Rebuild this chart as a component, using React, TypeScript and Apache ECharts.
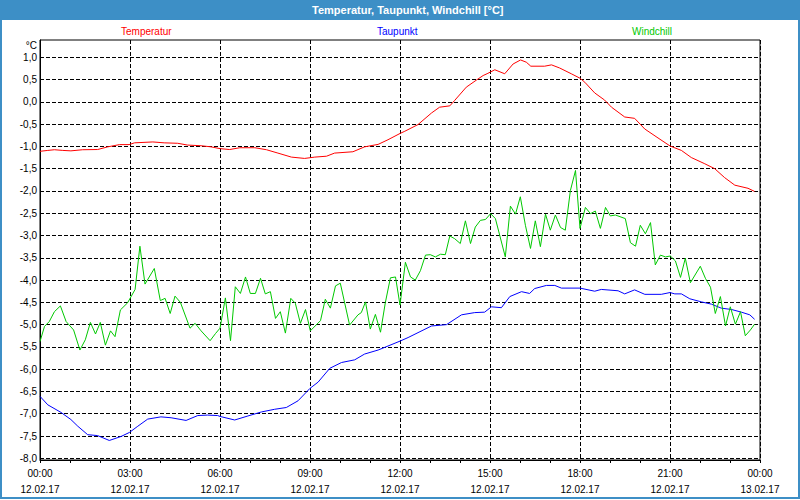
import React, { useEffect, useRef } from "react";
import * as echarts from "echarts";

const DAY_START = Date.UTC(2017, 1, 12);
const HOUR = 3600000;

const yTickValues = [-8, -7.5, -7, -6.5, -6, -5.5, -5, -4.5, -4, -3.5, -3, -2.5, -2, -1.5, -1, -0.5, 0, 0.5, 1];

// [hour of 12.02.17, °C]
const temperatur: [number, number][] = [
  [0.0, -1.11], [0.26, -1.09], [0.48, -1.075], [0.76, -1.09], [1.03, -1.1], [1.42, -1.075], [1.92, -1.07],
  [2.26, -1.01], [2.65, -0.96], [2.97, -0.96], [3.15, -0.92], [3.76, -0.9], [4.14, -0.92], [4.59, -0.93],
  [4.92, -0.97], [5.37, -0.985], [5.7, -1.01], [6.0, -1.05], [6.32, -1.07], [6.66, -1.03], [7.16, -1.03],
  [7.55, -1.075], [7.93, -1.15], [8.38, -1.24], [8.82, -1.27], [9.16, -1.24], [9.55, -1.22], [9.82, -1.15],
  [10.43, -1.12], [10.82, -1.01], [11.27, -0.955], [11.6, -0.85], [12.0, -0.71], [12.16, -0.66], [12.6, -0.51],
  [13.05, -0.25], [13.32, -0.12], [13.66, -0.09], [13.82, 0.03], [14.21, 0.33], [14.55, 0.49], [14.77, 0.59],
  [14.93, 0.64], [15.16, 0.72], [15.49, 0.63], [15.77, 0.85], [16.02, 0.94], [16.21, 0.89], [16.36, 0.8],
  [16.82, 0.8], [17.05, 0.83], [17.32, 0.76], [17.71, 0.63], [18.0, 0.53], [18.16, 0.44], [18.49, 0.2],
  [18.82, 0.04], [19.05, -0.12], [19.49, -0.34], [19.82, -0.37], [20.16, -0.61], [20.6, -0.81], [21.0, -0.99],
  [21.38, -1.09], [21.71, -1.25], [22.16, -1.39], [22.49, -1.5], [22.82, -1.7], [23.16, -1.87], [23.6, -1.94],
  [23.82, -2.01],
];

const taupunkt: [number, number][] = [
  [0.0, -6.61], [0.26, -6.8], [0.7, -6.97], [1.03, -7.13], [1.26, -7.28], [1.59, -7.47], [1.92, -7.49],
  [2.31, -7.6], [2.7, -7.51], [2.98, -7.42], [3.26, -7.28], [3.59, -7.12], [4.03, -7.07], [4.37, -7.09],
  [4.87, -7.15], [5.26, -7.04], [5.59, -7.03], [5.92, -7.04], [6.0, -7.06], [6.49, -7.14], [6.93, -7.05],
  [7.38, -6.96], [7.82, -6.9], [8.21, -6.86], [8.6, -6.71], [9.0, -6.43], [9.27, -6.29], [9.66, -5.98],
  [10.05, -5.85], [10.49, -5.79], [10.82, -5.66], [11.27, -5.57], [11.6, -5.48], [12.0, -5.37], [12.27, -5.29],
  [12.6, -5.18], [13.05, -5.03], [13.55, -5.0], [14.05, -4.78], [14.49, -4.73], [14.82, -4.72], [15.05, -4.6],
  [15.38, -4.62], [15.66, -4.37], [16.05, -4.26], [16.32, -4.3], [16.49, -4.19], [16.88, -4.12], [17.16, -4.12],
  [17.38, -4.18], [18.0, -4.18], [18.49, -4.25], [18.71, -4.21], [19.27, -4.24], [19.49, -4.31], [19.82, -4.22],
  [20.16, -4.32], [20.71, -4.32], [21.0, -4.28], [21.16, -4.31], [21.38, -4.31], [21.66, -4.42], [22.05, -4.49],
  [22.38, -4.54], [22.71, -4.63], [23.05, -4.66], [23.38, -4.72], [23.66, -4.78], [23.82, -4.88],
];

const windchill: [number, number][] = [
  [0.0, -5.38], [0.15, -5.04], [0.31, -4.93], [0.48, -4.71], [0.68, -4.58], [0.87, -4.93], [1.12, -5.12],
  [1.33, -5.57], [1.51, -5.34], [1.68, -4.95], [1.85, -5.21], [2.01, -4.95], [2.18, -5.46], [2.35, -5.14],
  [2.5, -5.27], [2.68, -4.67], [2.92, -4.51], [3.17, -4.21], [3.33, -3.24], [3.5, -4.09], [3.81, -3.74],
  [4.01, -4.46], [4.17, -4.41], [4.34, -4.75], [4.5, -4.36], [4.68, -4.5], [5.0, -5.08], [5.17, -4.97],
  [5.37, -5.14], [5.67, -5.36], [5.85, -5.2], [6.0, -5.08], [6.18, -4.4], [6.35, -5.36], [6.51, -4.15],
  [6.68, -4.3], [6.85, -3.93], [7.01, -4.3], [7.18, -4.3], [7.35, -3.96], [7.51, -4.31], [7.68, -4.26],
  [7.85, -4.86], [8.01, -4.71], [8.18, -5.19], [8.36, -4.41], [8.51, -4.52], [8.68, -4.97], [8.85, -4.66],
  [9.01, -5.14], [9.35, -4.91], [9.51, -4.43], [9.68, -4.63], [9.85, -4.13], [10.01, -4.07], [10.32, -5.01],
  [10.6, -4.78], [10.71, -4.73], [10.85, -4.49], [11.01, -5.1], [11.18, -4.77], [11.35, -5.17], [11.51, -4.51],
  [11.68, -3.95], [11.85, -3.93], [12.0, -4.56], [12.18, -3.6], [12.35, -3.93], [12.51, -4.0], [12.68, -3.79],
  [12.85, -3.44], [13.01, -3.43], [13.18, -3.48], [13.35, -3.42], [13.51, -3.43], [13.66, -3.01], [13.82, -3.07],
  [14.01, -3.18], [14.18, -2.67], [14.35, -3.18], [14.51, -2.81], [14.68, -2.66], [14.85, -2.64], [15.02, -2.51],
  [15.18, -2.62], [15.51, -3.48], [15.68, -2.34], [15.85, -2.52], [16.01, -2.13], [16.18, -2.77], [16.35, -3.29],
  [16.51, -2.67], [16.68, -3.25], [16.85, -2.52], [17.01, -2.88], [17.18, -2.54], [17.35, -2.82], [17.51, -2.88],
  [17.68, -1.99], [17.85, -1.54], [18.0, -2.84], [18.18, -2.37], [18.35, -2.51], [18.51, -2.45], [18.68, -2.84],
  [18.85, -2.37], [19.01, -2.56], [19.18, -2.54], [19.51, -2.62], [19.68, -3.16], [19.85, -3.24], [20.01, -2.77],
  [20.18, -2.96], [20.35, -2.71], [20.51, -3.66], [20.68, -3.44], [20.85, -3.48], [21.01, -3.46], [21.18, -3.57],
  [21.35, -3.94], [21.51, -3.51], [21.68, -4.06], [22.01, -3.69], [22.18, -3.96], [22.35, -4.16], [22.51, -4.75],
  [22.68, -4.37], [22.85, -5.03], [23.01, -4.6], [23.18, -4.99], [23.35, -4.71], [23.51, -5.25], [23.68, -5.12],
  [23.82, -4.99],
];

const seriesNames = ["Temperatur", "Taupunkt", "Windchill"];
const seriesColors = ["#ff0000", "#0000ff", "#00c800"];

const FONT = "'Liberation Sans', Arial, sans-serif";
const BLUE = "#3d8fc6";

const pad = (n: number) => String(n).padStart(2, "0");
const toPoints = (d: [number, number][]) => d.map(([h, v]) => [DAY_START + h * HOUR, v]);

export default function App() {
  const ref = useRef<HTMLDivElement>(null);
  useEffect(() => {
    if (!ref.current) return;
    const chart = echarts.init(ref.current, null, { renderer: "svg" });
    const legendLefts = [116, 372, 627];
    const data = [temperatur, taupunkt, windchill];
    chart.setOption({
      animation: false,
      backgroundColor: "#ffffff",
      title: {
        text: "Temperatur, Taupunkt, Windchill [°C]",
        left: 312,
        top: 3,
        padding: 0,
        textStyle: { color: "#ffffff", fontWeight: "bold", fontSize: 11, fontFamily: FONT, lineHeight: 13 },
      },
      graphic: [
        { type: "rect", z: -10, shape: { x: 0, y: 0, width: 800, height: 20 }, style: { fill: BLUE } },
        { type: "rect", z: -10, shape: { x: 1, y: 1, width: 798, height: 497 }, style: { fill: "none", stroke: BLUE, lineWidth: 2 } },
      ],
      legend: seriesNames.map((name, i) => ({
        left: legendLefts[i],
        top: 25,
        padding: 0,
        itemWidth: 0,
        itemHeight: 12,
        icon: "none",
        selectedMode: false,
        data: [{ name, icon: "none", textStyle: { color: seriesColors[i] } }],
        textStyle: { fontSize: 10, fontFamily: FONT, color: seriesColors[i] },
      })),
      grid: { left: 40, right: 40, top: 40, bottom: 40, show: true, borderColor: "#000", borderWidth: 1, backgroundColor: "transparent" },
      xAxis: {
        type: "value",
        min: DAY_START,
        max: DAY_START + 24 * HOUR,
        interval: 3 * HOUR,
        axisLine: { show: true, onZero: false, lineStyle: { color: "#000", width: 1 } },
        axisTick: { show: true, length: 3, lineStyle: { color: "#000" } },
        minorTick: { show: true, splitNumber: 3, length: 3, lineStyle: { color: "#000" } },
        splitLine: { show: true, lineStyle: { color: "#000", type: [4, 2], width: 1 } },
        axisLabel: {
          margin: 5,
          color: "#000",
          fontSize: 10,
          lineHeight: 16,
          fontFamily: FONT,
          formatter: (v: number) => {
            const d = new Date(v);
            return `${pad(d.getUTCHours())}:${pad(d.getUTCMinutes())}\n${pad(d.getUTCDate())}.${pad(d.getUTCMonth() + 1)}.${String(d.getUTCFullYear()).slice(2)}`;
          },
        },
      },
      yAxis: {
        type: "value",
        min: -8.038,
        max: 1.388,
        name: "°C",
        nameLocation: "end",
        nameGap: -5,
        nameTextStyle: { color: "#000", fontSize: 10, fontFamily: FONT, align: "right", verticalAlign: "middle", padding: [0, 3, 0, 0] },
        axisLine: { show: true, onZero: false, lineStyle: { color: "#000", width: 1 } },
        axisTick: { show: false, customValues: yTickValues },
        splitLine: { show: true, lineStyle: { color: "#000", type: [4, 2], width: 1 } },
        axisLabel: {
          customValues: yTickValues,
          margin: 3,
          color: "#000",
          fontSize: 10,
          fontFamily: FONT,
          formatter: (v: number) => v.toFixed(1).replace(".", ","),
        },
      },
      series: seriesNames.map((name, i) => ({
        name,
        type: "line",
        data: toPoints(data[i]),
        showSymbol: false,
        symbol: "none",
        color: seriesColors[i],
        lineStyle: { color: seriesColors[i], width: 1 },
        clip: true,
      })),
    });
    return () => chart.dispose();
  }, []);
  return <div ref={ref} style={{ position: "absolute", left: 0, top: 0, width: 800, height: 500 }} />;
}
